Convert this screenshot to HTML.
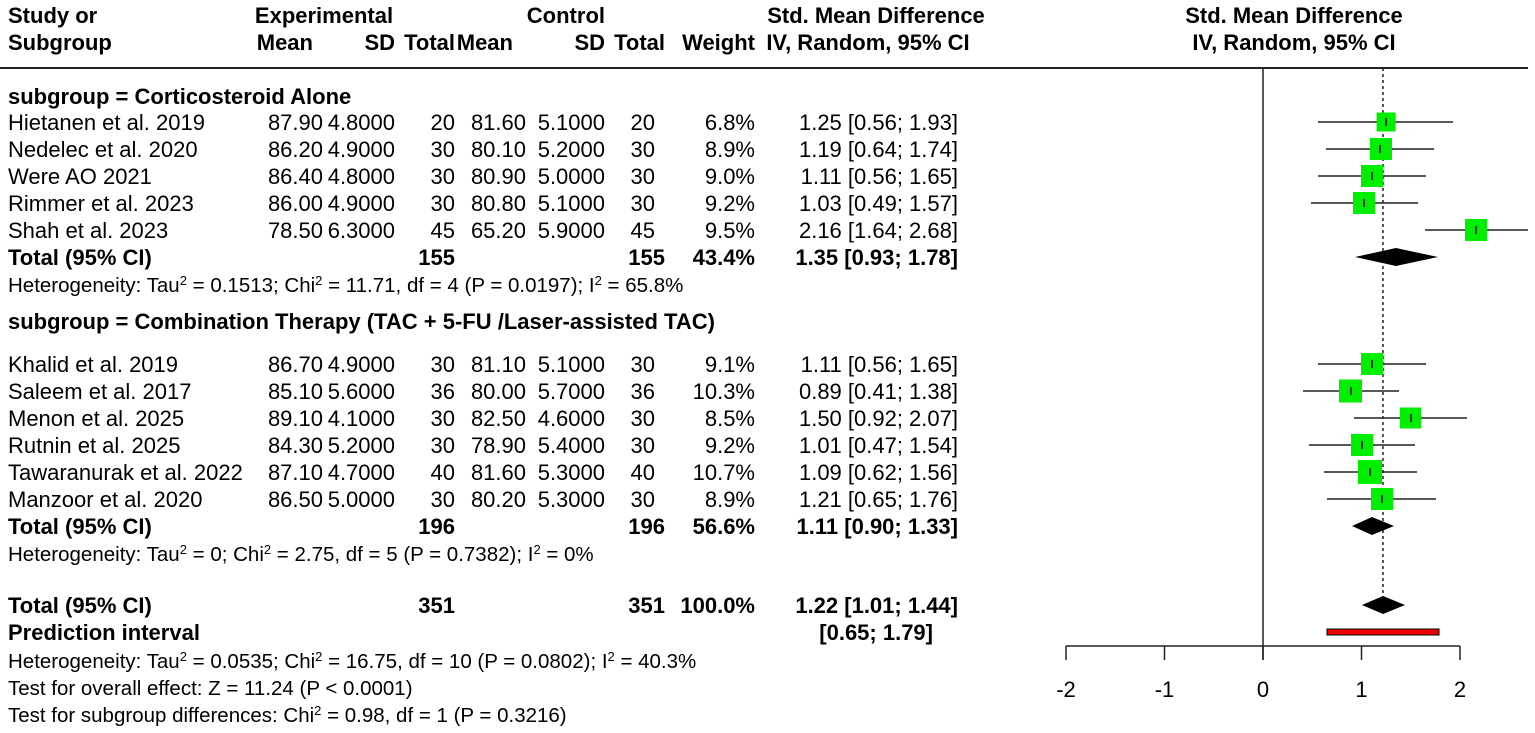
<!DOCTYPE html>
<html><head><meta charset="utf-8"><style>
html,body{margin:0;padding:0;background:#fff}
svg{display:block}
text{font-family:"Liberation Sans",Arial,sans-serif;font-size:22px;fill:#000}
.b{font-weight:bold}
.s{font-size:20.5px}
.e{text-anchor:end}
.m{text-anchor:middle}
</style></head><body>
<svg width="1535" height="733" viewBox="0 0 1535 733" xmlns="http://www.w3.org/2000/svg">
<g class="b">
<text x="8" y="23" class="b">Study or</text>
<text x="8" y="50" class="b">Subgroup</text>
<text x="324" y="23" class="b m">Experimental</text>
<text x="313" y="50" class="b e">Mean</text>
<text x="395" y="50" class="b e">SD</text>
<text x="455" y="50" class="b e">Total</text>
<text x="513" y="50" class="b e">Mean</text>
<text x="605" y="23" class="b e">Control</text>
<text x="605" y="50" class="b e">SD</text>
<text x="665" y="50" class="b e">Total</text>
<text x="755" y="50" class="b e">Weight</text>
<text x="876" y="23" class="b m">Std. Mean Difference</text>
<text x="868" y="50" class="b m">IV, Random, 95% CI</text>
<text x="1294" y="23" class="b m">Std. Mean Difference</text>
<text x="1294" y="50" class="b m">IV, Random, 95% CI</text>
</g>
<line x1="0" y1="68" x2="1528" y2="68" stroke="#222" stroke-width="2"/>

<line x1="1263" y1="68" x2="1263" y2="660" stroke="#222" stroke-width="1.5"/>
<line x1="1383" y1="68" x2="1383" y2="598" stroke="#222" stroke-width="1.5" stroke-dasharray="3,3"/>
<line x1="1066" y1="646" x2="1460" y2="646" stroke="#222" stroke-width="1.5"/>
<g stroke="#222" stroke-width="1.5">
<line x1="1066" y1="646" x2="1066" y2="660"/><line x1="1164.5" y1="646" x2="1164.5" y2="660"/>
<line x1="1263" y1="646" x2="1263" y2="660"/><line x1="1361.5" y1="646" x2="1361.5" y2="660"/>
<line x1="1460" y1="646" x2="1460" y2="660"/>
</g>
<text x="1066" y="697" class="m">-2</text><text x="1164.5" y="697" class="m">-1</text>
<text x="1263" y="697" class="m">0</text><text x="1361.5" y="697" class="m">1</text><text x="1460" y="697" class="m">2</text>

<text x="8" y="104" class="b">subgroup = Corticosteroid Alone</text>
<text x="8" y="265" class="b">Total (95% CI)</text>
<text x="455" y="265" class="b e">155</text>
<text x="665" y="265" class="b e">155</text>
<text x="755" y="265" class="b e">43.4%</text>
<text x="958" y="265" class="b e">1.35 [0.93; 1.78]</text>
<text x="8" y="292" class="s">Heterogeneity: Tau<tspan dy="-7" font-size="13">2</tspan><tspan dy="7"> = 0.1513; Chi</tspan><tspan dy="-7" font-size="13">2</tspan><tspan dy="7"> = 11.71, df = 4 (P = 0.0197); I</tspan><tspan dy="-7" font-size="13">2</tspan><tspan dy="7"> = 65.8%</tspan></text>
<polygon points="1355,257 1396,248 1438,257 1396,266" fill="#000"/>

<text x="8" y="329" class="b">subgroup = Combination Therapy (TAC + 5-FU /Laser-assisted TAC)</text>
<text x="8" y="534" class="b">Total (95% CI)</text>
<text x="455" y="534" class="b e">196</text>
<text x="665" y="534" class="b e">196</text>
<text x="755" y="534" class="b e">56.6%</text>
<text x="958" y="534" class="b e">1.11 [0.90; 1.33]</text>
<text x="8" y="561" class="s">Heterogeneity: Tau<tspan dy="-7" font-size="13">2</tspan><tspan dy="7"> = 0; Chi</tspan><tspan dy="-7" font-size="13">2</tspan><tspan dy="7"> = 2.75, df = 5 (P = 0.7382); I</tspan><tspan dy="-7" font-size="13">2</tspan><tspan dy="7"> = 0%</tspan></text>
<polygon points="1352,526 1372,517 1394,526 1372,535" fill="#000"/>

<text x="8" y="613" class="b">Total (95% CI)</text>
<text x="455" y="613" class="b e">351</text>
<text x="665" y="613" class="b e">351</text>
<text x="755" y="613" class="b e">100.0%</text>
<text x="958" y="613" class="b e">1.22 [1.01; 1.44]</text>
<text x="8" y="640" class="b">Prediction interval</text>
<text x="933" y="640" class="b e">[0.65; 1.79]</text>
<polygon points="1362,605 1383,596 1405,605 1383,614" fill="#000"/>
<rect x="1327" y="629" width="112" height="6" fill="#e00" stroke="#000" stroke-width="1"/>
<text x="8" y="668" class="s">Heterogeneity: Tau<tspan dy="-7" font-size="13">2</tspan><tspan dy="7"> = 0.0535; Chi</tspan><tspan dy="-7" font-size="13">2</tspan><tspan dy="7"> = 16.75, df = 10 (P = 0.0802); I</tspan><tspan dy="-7" font-size="13">2</tspan><tspan dy="7"> = 40.3%</tspan></text>
<text x="8" y="695" class="s">Test for overall effect: Z = 11.24 (P &lt; 0.0001)</text>
<text x="8" y="722" class="s">Test for subgroup differences: Chi<tspan dy="-7" font-size="13">2</tspan><tspan dy="7"> = 0.98, df = 1 (P = 0.3216)</tspan></text>

<g>
<text x="8" y="130">Hietanen et al. 2019</text><text x="323" y="130" class="e">87.90</text><text x="395" y="130" class="e">4.8000</text><text x="455" y="130" class="e">20</text><text x="526" y="130" class="e">81.60</text><text x="605" y="130" class="e">5.1000</text><text x="655" y="130" class="e">20</text><text x="755" y="130" class="e">6.8%</text><text x="958" y="130" class="e">1.25 [0.56; 1.93]</text>
<text x="8" y="157">Nedelec et al. 2020</text><text x="323" y="157" class="e">86.20</text><text x="395" y="157" class="e">4.9000</text><text x="455" y="157" class="e">30</text><text x="526" y="157" class="e">80.10</text><text x="605" y="157" class="e">5.2000</text><text x="655" y="157" class="e">30</text><text x="755" y="157" class="e">8.9%</text><text x="958" y="157" class="e">1.19 [0.64; 1.74]</text>
<text x="8" y="184">Were AO 2021</text><text x="323" y="184" class="e">86.40</text><text x="395" y="184" class="e">4.8000</text><text x="455" y="184" class="e">30</text><text x="526" y="184" class="e">80.90</text><text x="605" y="184" class="e">5.0000</text><text x="655" y="184" class="e">30</text><text x="755" y="184" class="e">9.0%</text><text x="958" y="184" class="e">1.11 [0.56; 1.65]</text>
<text x="8" y="211">Rimmer et al. 2023</text><text x="323" y="211" class="e">86.00</text><text x="395" y="211" class="e">4.9000</text><text x="455" y="211" class="e">30</text><text x="526" y="211" class="e">80.80</text><text x="605" y="211" class="e">5.1000</text><text x="655" y="211" class="e">30</text><text x="755" y="211" class="e">9.2%</text><text x="958" y="211" class="e">1.03 [0.49; 1.57]</text>
<text x="8" y="238">Shah et al. 2023</text><text x="323" y="238" class="e">78.50</text><text x="395" y="238" class="e">6.3000</text><text x="455" y="238" class="e">45</text><text x="526" y="238" class="e">65.20</text><text x="605" y="238" class="e">5.9000</text><text x="655" y="238" class="e">45</text><text x="755" y="238" class="e">9.5%</text><text x="958" y="238" class="e">2.16 [1.64; 2.68]</text>

<text x="8" y="372">Khalid et al. 2019</text><text x="323" y="372" class="e">86.70</text><text x="395" y="372" class="e">4.9000</text><text x="455" y="372" class="e">30</text><text x="526" y="372" class="e">81.10</text><text x="605" y="372" class="e">5.1000</text><text x="655" y="372" class="e">30</text><text x="755" y="372" class="e">9.1%</text><text x="958" y="372" class="e">1.11 [0.56; 1.65]</text>
<text x="8" y="399">Saleem et al. 2017</text><text x="323" y="399" class="e">85.10</text><text x="395" y="399" class="e">5.6000</text><text x="455" y="399" class="e">36</text><text x="526" y="399" class="e">80.00</text><text x="605" y="399" class="e">5.7000</text><text x="655" y="399" class="e">36</text><text x="755" y="399" class="e">10.3%</text><text x="958" y="399" class="e">0.89 [0.41; 1.38]</text>
<text x="8" y="426">Menon et al. 2025</text><text x="323" y="426" class="e">89.10</text><text x="395" y="426" class="e">4.1000</text><text x="455" y="426" class="e">30</text><text x="526" y="426" class="e">82.50</text><text x="605" y="426" class="e">4.6000</text><text x="655" y="426" class="e">30</text><text x="755" y="426" class="e">8.5%</text><text x="958" y="426" class="e">1.50 [0.92; 2.07]</text>
<text x="8" y="453">Rutnin et al. 2025</text><text x="323" y="453" class="e">84.30</text><text x="395" y="453" class="e">5.2000</text><text x="455" y="453" class="e">30</text><text x="526" y="453" class="e">78.90</text><text x="605" y="453" class="e">5.4000</text><text x="655" y="453" class="e">30</text><text x="755" y="453" class="e">9.2%</text><text x="958" y="453" class="e">1.01 [0.47; 1.54]</text>
<text x="8" y="480">Tawaranurak et al. 2022</text><text x="323" y="480" class="e">87.10</text><text x="395" y="480" class="e">4.7000</text><text x="455" y="480" class="e">40</text><text x="526" y="480" class="e">81.60</text><text x="605" y="480" class="e">5.3000</text><text x="655" y="480" class="e">40</text><text x="755" y="480" class="e">10.7%</text><text x="958" y="480" class="e">1.09 [0.62; 1.56]</text>
<text x="8" y="507">Manzoor et al. 2020</text><text x="323" y="507" class="e">86.50</text><text x="395" y="507" class="e">5.0000</text><text x="455" y="507" class="e">30</text><text x="526" y="507" class="e">80.20</text><text x="605" y="507" class="e">5.3000</text><text x="655" y="507" class="e">30</text><text x="755" y="507" class="e">8.9%</text><text x="958" y="507" class="e">1.21 [0.65; 1.76]</text>
</g>

<g stroke="#222" stroke-width="1.5">
<line x1="1318" y1="122" x2="1453" y2="122"/>
<line x1="1326" y1="149" x2="1434" y2="149"/>
<line x1="1318" y1="176" x2="1426" y2="176"/>
<line x1="1311" y1="203" x2="1418" y2="203"/>
<line x1="1425" y1="230" x2="1528" y2="230"/>
<line x1="1318" y1="364" x2="1426" y2="364"/>
<line x1="1303" y1="391" x2="1399" y2="391"/>
<line x1="1354" y1="418" x2="1467" y2="418"/>
<line x1="1309" y1="445" x2="1415" y2="445"/>
<line x1="1324" y1="472" x2="1417" y2="472"/>
<line x1="1327" y1="499" x2="1436" y2="499"/>
</g>
<g fill="#00ee00">
<rect x="1376.6" y="112.5" width="19" height="19"/>
<rect x="1370" y="138" width="22" height="22"/>
<rect x="1361" y="165" width="22" height="22"/>
<rect x="1353" y="192" width="22" height="22"/>
<rect x="1465" y="219" width="22" height="22"/>
<rect x="1361" y="353" width="22" height="22"/>
<rect x="1339" y="379.5" width="23" height="23"/>
<rect x="1400" y="407.5" width="21" height="21"/>
<rect x="1351" y="434" width="22" height="22"/>
<rect x="1358" y="460" width="24" height="24"/>
<rect x="1371" y="488" width="22" height="22"/>
</g>
<g stroke="#000" stroke-width="1.5">
<line x1="1386" y1="118" x2="1386" y2="126"/>
<line x1="1380" y1="145" x2="1380" y2="153"/>
<line x1="1372" y1="172" x2="1372" y2="180"/>
<line x1="1364" y1="199" x2="1364" y2="207"/>
<line x1="1476" y1="226" x2="1476" y2="234"/>
<line x1="1372" y1="360" x2="1372" y2="368"/>
<line x1="1351" y1="387" x2="1351" y2="395"/>
<line x1="1411" y1="414" x2="1411" y2="422"/>
<line x1="1362" y1="441" x2="1362" y2="449"/>
<line x1="1370" y1="468" x2="1370" y2="476"/>
<line x1="1382" y1="495" x2="1382" y2="503"/>
</g>
</svg>
</body></html>
